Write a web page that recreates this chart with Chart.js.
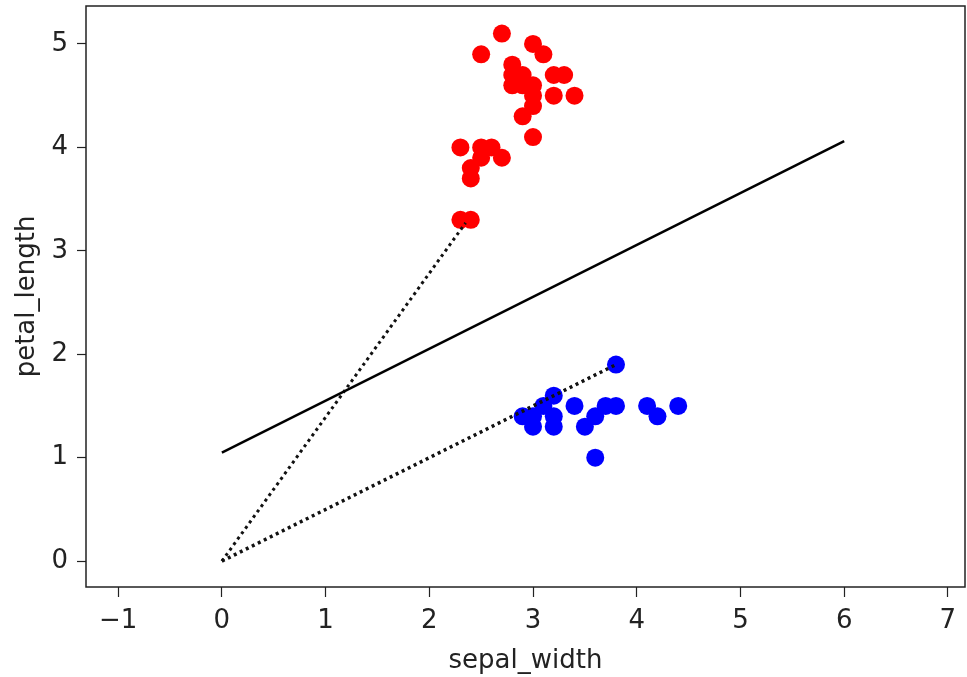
<!DOCTYPE html>
<html lang="en">

<head>
    <meta charset="UTF-8">
    <script src="https://cdn.jsdelivr.net/npm/chart.js"></script>
    <title>petal_length vs sepal_width</title>
    <style>
        body { margin: 0; background: #fff; }
    </style>
</head>

<body>
    <canvas id="myChart" width="967" height="677"></canvas>
</body>

</html>

<script>

    // red points (sepal_width, petal_length)
    var red_x = [2.7, 2.5, 3.0, 3.1, 2.8, 2.8, 2.9, 2.8, 3.0, 3.0, 3.0, 2.9, 3.2, 3.3, 3.2, 3.4, 3.0, 2.3, 2.5, 2.6, 2.7, 2.5, 2.4, 2.4, 2.3, 2.4, 2.9]
    var red_y = [5.1, 4.9, 5.0, 4.9, 4.8, 4.7, 4.7, 4.6, 4.6, 4.5, 4.4, 4.3, 4.7, 4.7, 4.5, 4.5, 4.1, 4.0, 4.0, 4.0, 3.9, 3.9, 3.8, 3.7, 3.3, 3.3, 4.6]

    // blue points
    var blue_x = [3.8, 3.2, 3.4, 3.7, 3.8, 4.1, 4.4, 4.2, 3.6, 3.5, 3.6, 2.9, 3.0, 3.2, 3.2, 3.1, 3.0]
    var blue_y = [1.9, 1.6, 1.5, 1.5, 1.5, 1.5, 1.5, 1.4, 1.4, 1.3, 1.0, 1.4, 1.3, 1.3, 1.4, 1.5, 1.4]

    // separating line
    var line_x = [0, 6]
    var line_y = [1.05, 4.06]

    // dotted lines from origin
    var dot1_x = [0, 2.35]
    var dot1_y = [0, 3.27]
    var dot2_x = [0, 3.8]
    var dot2_y = [0, 1.9]

    var x_ticks = [-1, 0, 1, 2, 3, 4, 5, 6, 7]
    var y_ticks = [0, 1, 2, 3, 4, 5]

    function pts(xs, ys) {
        return xs.map(function (x, i) { return { x: x, y: ys[i] } })
    }

    // box around the plot area
    const boxPlugin = {
        id: 'box',
        afterDraw(chart) {
            const a = chart.chartArea
            const c = chart.ctx
            c.save()
            c.strokeStyle = '#222'
            c.lineWidth = 1.5
            c.strokeRect(a.left, a.top, a.right - a.left, a.bottom - a.top)
            c.restore()
        }
    }

    const font = { family: 'DejaVu Sans', size: 26 }

    const ctx = document.getElementById('myChart');

    new Chart(ctx, {
        type: 'scatter',
        data: {
            datasets: [
                {
                    data: pts(line_x, line_y),
                    showLine: true,
                    borderColor: '#000',
                    borderWidth: 2.5,
                    pointRadius: 0,
                    order: 0
                },
                {
                    data: pts(dot1_x, dot1_y),
                    showLine: true,
                    borderColor: '#111',
                    borderWidth: 3,
                    borderDash: [3, 3.7],
                    pointRadius: 0,
                    order: 0
                },
                {
                    data: pts(dot2_x, dot2_y),
                    showLine: true,
                    borderColor: '#111',
                    borderWidth: 3.5,
                    borderDash: [3, 3.7],
                    pointRadius: 0,
                    order: 0
                },
                {
                    data: pts(red_x, red_y),
                    backgroundColor: '#ff0000',
                    borderWidth: 0,
                    pointRadius: 9,
                    order: 1
                },
                {
                    data: pts(blue_x, blue_y),
                    backgroundColor: '#0000ff',
                    borderWidth: 0,
                    pointRadius: 9,
                    order: 1
                }
            ]
        },
        options: {
            responsive: false,
            animation: false,
            layout: { autoPadding: false, padding: { top: 6, right: 2, left: 0, bottom: 0 } },
            plugins: {
                legend: { display: false },
                tooltip: { enabled: false }
            },
            scales: {
                x: {
                    type: 'linear',
                    min: -1.31,
                    max: 7.165,
                    afterBuildTicks: (s) => { s.ticks = x_ticks.map(v => ({ value: v })) },
                    afterFit: (s) => { s.height = 90; s.paddingLeft = 0; s.paddingRight = 0 },
                    border: { display: false },
                    grid: { drawOnChartArea: false, drawTicks: true, tickLength: 10, tickColor: '#222', tickWidth: 1.2 },
                    ticks: { font: font, color: '#222', padding: 9, maxRotation: 0, callback: (v) => v < 0 ? '\u2212' + Math.abs(v) : v },
                    title: { display: true, text: 'sepal_width', font: font, color: '#222', padding: { top: 4, bottom: 0 } }
                },
                y: {
                    type: 'linear',
                    min: -0.25,
                    max: 5.367,
                    afterBuildTicks: (s) => { s.ticks = y_ticks.map(v => ({ value: v })) },
                    afterFit: (s) => { s.width = 86; s.paddingTop = 0; s.paddingBottom = 0 },
                    border: { display: false },
                    grid: { drawOnChartArea: false, drawTicks: true, tickLength: 9, tickColor: '#222', tickWidth: 1.2 },
                    ticks: { font: font, color: '#222', padding: 9 },
                    title: { display: true, text: 'petal_length', font: font, color: '#222', padding: { top: 12, bottom: 4 } }
                }
            }
        },
        plugins: [boxPlugin]
    });

</script>
